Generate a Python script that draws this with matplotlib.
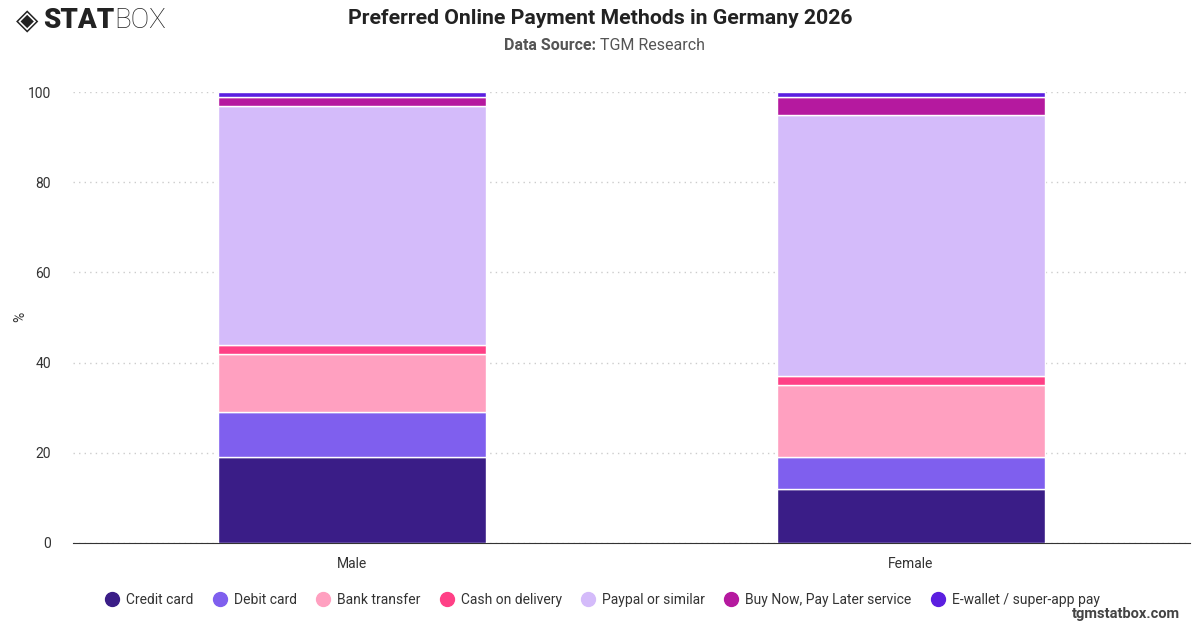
import matplotlib.pyplot as plt
import numpy as np

plt.rcParams['font.family'] = ['Roboto', 'DejaVu Sans']

# data
groups = ['Male', 'Female']
methods = ['Credit card', 'Debit card', 'Bank transfer', 'Cash on delivery',
           'Paypal or similar', 'Buy Now, Pay Later service', 'E-wallet / super-app pay']
credit_card = [19, 12]
debit_card = [10, 7]
bank_transfer = [13, 16]
cash_on_delivery = [2, 2]
paypal = [53, 58]
bnpl = [2, 4]
ewallet = [1, 1]
series = [credit_card, debit_card, bank_transfer, cash_on_delivery, paypal, bnpl, ewallet]
colors = ['#3a1d87', '#7f5fee', '#ffa0c0', '#ff4086', '#d4bbfa', '#b5199f', '#5b1ee0']

fig = plt.figure(figsize=(12, 6.28), dpi=100)
ax = fig.add_axes([73/1200, 1 - 543/628, (1190-73)/1200, (543-92)/628])

x = np.arange(len(groups))
bottom = np.zeros(len(groups))
for vals, col, name in zip(series, colors, methods):
    ax.bar(x, vals, bottom=bottom, width=0.48, color=col, edgecolor='white',
           linewidth=1, label=name, zorder=3)
    bottom += np.array(vals)

ax.set_xlim(-0.5, 1.5)
ax.set_ylim(0, 100)
ax.set_yticks([0, 20, 40, 60, 80, 100])
ax.set_xticks(x)
ax.set_xticklabels(groups)
ax.grid(axis='y', color='#cccccc', linestyle=(0, (1, 3)), linewidth=1, zorder=0)
for s in ['top', 'right', 'left']:
    ax.spines[s].set_visible(False)
ax.spines['bottom'].set_color('#333333')
ax.tick_params(axis='y', length=0, pad=16, labelsize=10, colors='#333333')
ax.tick_params(axis='x', length=0, pad=10, labelsize=10, colors='#333333')
fig.text(20/1200, 1 - 317/628, '%', rotation=90, ha='center', va='center',
         fontsize=10, color='#333333')

# titles
fig.text(0.5, 1 - 18/628, 'Preferred Online Payment Methods in Germany 2026',
         ha='center', va='center', fontsize=15.3, fontweight='bold', color='#222222')
fig.text(0.5, 1 - 45/628, 'Data Source: ', ha='right', va='center', fontsize=11.5,
         fontweight='bold', color='#555555')
fig.text(0.5, 1 - 45/628, 'TGM Research', ha='left', va='center', fontsize=11.5,
         color='#555555')

# logo
fig.text(16/1200, 1 - 21/628, '\u25c8', ha='left', va='center', fontsize=21,
         color='#222222', family='DejaVu Sans')
fig.text(43/1200, 1 - 21/628, 'STAT', ha='left', va='center', fontsize=20,
         fontweight='black', color='#222222')
fig.text(114/1200, 1 - 21/628, 'BOX', ha='left', va='center', fontsize=20,
         fontweight='light', color='#222222')

# legend
handles = [plt.Line2D([], [], marker='o', linestyle='', markersize=10,
                      markerfacecolor=c, markeredgecolor=c) for c in colors]
fig.legend(handles, methods, loc='center', bbox_to_anchor=(601/1200, 1 - 600/628),
           ncol=7, frameon=False, fontsize=10, handletextpad=0.3, columnspacing=1.2,
           handlelength=1.4, labelcolor='#333333')

fig.text(1180/1200, 1 - 614/628, 'tgmstatbox.com', ha='right', va='center',
         fontsize=10.5, fontweight='bold', color='#444444')

fig.savefig('out.png', dpi=100)
